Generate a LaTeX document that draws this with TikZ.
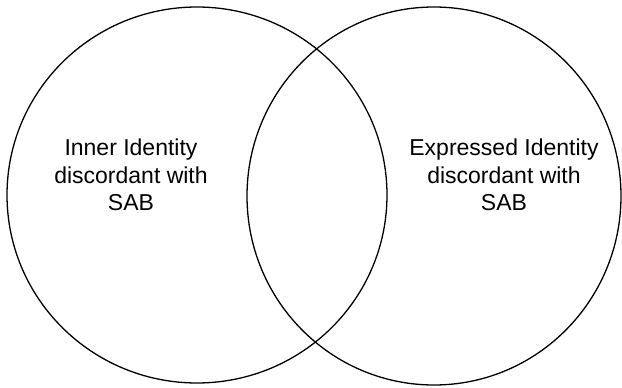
\documentclass[tikz,border=0pt]{standalone}
\usepackage{fontspec}
\setmainfont{Liberation Sans}
\begin{document}
\begin{tikzpicture}[x=1pt,y=-1pt,
  setring/.style={draw=black,line width=1.3pt},
  setlabel/.style={align=center,inner sep=0pt,
    font=\fontsize{23}{27.5}\selectfont}]
\useasboundingbox (0,0) rectangle (622,388);
% two overlapping sets
\draw[setring] (197,195) ellipse [x radius=190, y radius=188];
\draw[setring] (434,196) ellipse [x radius=187, y radius=189];
% set labels
\node[setlabel] (inner) at (131,175) {Inner Identity\\discordant with\\SAB};
\node[setlabel] (expressed) at (504,175) {Expressed Identity\\discordant with\\SAB};
\end{tikzpicture}
\end{document}
